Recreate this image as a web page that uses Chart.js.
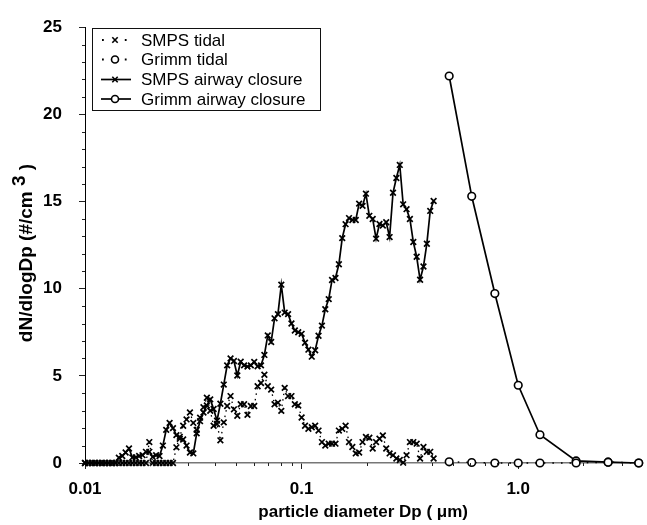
<!DOCTYPE html>
<html>
<head>
<meta charset="utf-8">
<script src="https://cdn.jsdelivr.net/npm/chart.js@4.4.0/dist/chart.umd.min.js"></script>
<style>
  html, body { margin: 0; padding: 0; background: #fff; }
  #wrap { width: 647px; height: 525px; position: relative; }
</style>
</head>
<body>
<div id="wrap"><canvas id="psdChart"></canvas></div>
<script>
// SMPS channel midpoints (um), 64 channels per decade
const smpsDp = [
  0.01, 0.01037, 0.01075, 0.01114, 0.01155, 0.01197, 0.01241, 0.01286, 0.01334, 0.01382,
  0.01433, 0.01486, 0.0154, 0.01596, 0.01655, 0.01715, 0.01778, 0.01843, 0.01911, 0.01981,
  0.02054, 0.02129, 0.02207, 0.02288, 0.02371, 0.02458, 0.02548, 0.02642, 0.02738, 0.02839,
  0.02943, 0.03051, 0.03162, 0.03278, 0.03398, 0.03523, 0.03652, 0.03786, 0.03924, 0.04068,
  0.04217, 0.04371, 0.04532, 0.04698, 0.0487, 0.05048, 0.05233, 0.05425, 0.05623, 0.05829,
  0.06043, 0.06264, 0.06494, 0.06732, 0.06978, 0.07234, 0.07499, 0.07774, 0.08058, 0.08354,
  0.0866, 0.08977, 0.09306, 0.09647, 0.1, 0.1037, 0.1075, 0.1114, 0.1155, 0.1197,
  0.1241, 0.1286, 0.1334, 0.1382, 0.1433, 0.1486, 0.154, 0.1596, 0.1655, 0.1715,
  0.1778, 0.1843, 0.1911, 0.1981, 0.2054, 0.2129, 0.2207, 0.2288, 0.2371, 0.2458,
  0.2548, 0.2642, 0.2738, 0.2839, 0.2943, 0.3051, 0.3162, 0.3278, 0.3398, 0.3523,
  0.3652, 0.3786, 0.3924, 0.4068
];
const smpsTidal = [
  0, 0, 0, 0, 0, 0, 0, 0, 0, 0,
  0, 0, 0, 0, 0, 0, 0, 0, 0, 1.2,
  0, 0, 0, 0, 0, 0, 0, 0.9, 1.5, 2.14,
  2.5, 2.9, 2.3, 1.9, 2.6, 3.2, 3.74, 3.0, 2.14, 2.24,
  1.3, 2.33, 3.27, 3.84, 3.08, 2.71, 3.37, 3.37, 2.76, 3.27,
  3.27, 4.4, 4.59, 5.06, 4.4, 4.21, 3.37, 3.46, 2.99, 4.31,
  3.84, 3.84, 3.37, 3.3, 2.61, 2.14, 1.96, 2.05, 2.14, 1.86,
  1.2, 1.0, 1.11, 1.11, 1.11, 1.86, 1.96, 2.14, 1.2, 0.92,
  0.55, 0.6, 1.2, 1.49, 1.45, 0.83, 1.2, 1.39, 1.58, 0.83,
  0.55, 0.45, 0.26, 0.17, 0.02, 0.45, 1.2, 1.2, 1.11, 0.26,
  0.92, 0.64, 0.64, 0.26
];
const smpsClosure = [
  0, 0, 0, 0, 0, 0, 0, 0, 0, 0,
  0.3, 0.4, 0.6, 0.83, 0.32, 0.32, 0.4, 0.45, 0.64, 0.64,
  0.35, 0.45, 0.4, 1.0, 1.9, 2.3, 2.0, 1.6, 1.39, 1.35,
  1.0, 0.6, 0.55, 1.7, 2.4, 2.9, 3.3, 3.65, 3.1, 2.43,
  3.4, 4.5, 5.6, 6.0, 5.85, 5.02, 5.81, 5.6, 5.53, 5.6,
  5.8, 5.55, 5.6, 6.2, 7.32, 6.94, 8.3, 8.54, 10.23, 8.63,
  8.54, 8.0, 7.6, 7.5, 7.41, 6.9, 6.5, 6.1, 6.47, 7.3,
  7.88, 8.82, 9.4, 10.5, 10.61, 11.4, 12.9, 13.7, 14.05, 13.94,
  13.94, 14.88, 14.75, 15.45, 14.18, 14.0, 12.87, 13.71, 13.62, 13.81,
  12.96, 15.5, 16.35, 17.1, 14.84, 14.56, 14.0, 12.68, 11.83, 10.51,
  11.27, 12.58, 14.46, 15.03
];

// Grimm optical channels (um)
const grimmDp = [0.48, 0.61, 0.78, 1.0, 1.26, 1.85, 2.6, 3.6];
const grimmTidal = [0.07, 0.03, 0, 0, 0, 0, 0.05, 0];
const grimmClosure = [22.2, 15.3, 9.72, 4.46, 1.62, 0.12, 0.05, 0];

const xTickValues = [0.01, 0.1, 1];
const xTickLabels = ['0.01', '0.1', '1.0'];
const yTickValues = [0, 5, 10, 15, 20, 25];
const seriesNames = ['SMPS tidal', 'Grimm tidal', 'SMPS airway closure', 'Grimm airway closure'];

const FONT = "'Liberation Sans', Arial, sans-serif";

function pairs(xs, ys){
  return xs.map((x, i) => ({ x: x, y: ys[i] }));
}

function drawCross(ctx, cx, cy, r){
  ctx.beginPath();
  ctx.moveTo(cx - r, cy - r); ctx.lineTo(cx + r, cy + r);
  ctx.moveTo(cx + r, cy - r); ctx.lineTo(cx - r, cy + r);
  ctx.stroke();
}
function drawCircle(ctx, cx, cy, r){
  ctx.beginPath();
  ctx.arc(cx, cy, r, 0, Math.PI * 2);
  ctx.fillStyle = '#fff';
  ctx.fill();
  ctx.stroke();
}

// minor ticks, boxed legend and y title with raised "3"
const extras = {
  id: 'extras',
  afterDraw(chart){
    const { ctx, chartArea } = chart;
    const x = chart.scales.x, y = chart.scales.y;
    ctx.save();
    ctx.strokeStyle = '#222';
    ctx.lineWidth = 1;
    ctx.beginPath();
    xTickValues.forEach(dec => {
      for (let m = 2; m <= 9; m++) {
        const v = dec * m;
        if (v > x.max) break;
        const px = Math.round(x.getPixelForValue(v)) + 0.5;
        ctx.moveTo(px, chartArea.bottom);
        ctx.lineTo(px, chartArea.bottom + 3);
      }
    });
    for (let v = 1; v < 25; v++) {
      if (v % 5 === 0) continue;
      const py = Math.round(y.getPixelForValue(v)) + 0.5;
      ctx.moveTo(chartArea.left, py);
      ctx.lineTo(chartArea.left - 3, py);
    }
    ctx.stroke();

    // legend
    const bx = 92.5, by = 28.5, bw = 228, bh = 82;
    ctx.strokeStyle = '#111';
    ctx.lineWidth = 1;
    ctx.strokeRect(bx, by, bw, bh);
    const rows = [40, 59.5, 79.5, 99];
    ctx.font = '17px ' + FONT;
    ctx.fillStyle = '#000';
    ctx.textBaseline = 'middle';
    rows.forEach((ry, i) => {
      ctx.strokeStyle = '#000';
      if (i < 2) {
        ctx.lineWidth = 1.8;
        ctx.setLineDash([1.8, 21]);
        ctx.beginPath(); ctx.moveTo(102, ry); ctx.lineTo(131, ry); ctx.stroke();
      } else {
        ctx.setLineDash([]);
        ctx.lineWidth = 1.7;
        ctx.beginPath(); ctx.moveTo(101, ry); ctx.lineTo(131, ry); ctx.stroke();
      }
      ctx.setLineDash([]);
      ctx.lineWidth = 1.6;
      if (i % 2 === 0) drawCross(ctx, 115, ry, 2.7);
      else drawCircle(ctx, 115, ry, 3.5);
      ctx.fillStyle = '#000';
      ctx.fillText(seriesNames[i], 141, ry + 1);
    });

    // y axis title
    ctx.save();
    ctx.translate(27, 253);
    ctx.rotate(-Math.PI / 2);
    ctx.font = 'bold 19px ' + FONT;
    const p1 = 'dN/dlogDp (#/cm ', p2 = '3', p3 = ' )';
    const w1 = ctx.measureText(p1).width, w2 = ctx.measureText(p2).width, w3 = ctx.measureText(p3).width;
    let sx = -(w1 + w2 + w3) / 2;
    ctx.textBaseline = 'middle';
    ctx.textAlign = 'left';
    ctx.fillText(p1, sx, 0);
    ctx.fillText(p2, sx + w1, -7);
    ctx.fillText(p3, sx + w1 + w2, 0);
    ctx.restore();

    ctx.restore();
  }
};

const tickFont = { family: FONT, size: 17, weight: 'bold' };

new Chart(document.getElementById('psdChart'), {
  type: 'line',
  data: {
    datasets: [
      {
        label: seriesNames[0],
        data: pairs(smpsDp, smpsTidal),
        borderColor: '#000',
        borderWidth: 1.3,
        borderDash: [1.5, 4],
        pointStyle: 'crossRot',
        pointRadius: 4,
        pointBorderWidth: 1.7,
        pointBorderColor: '#000',
        clip: false
      },
      {
        label: seriesNames[1],
        data: pairs(grimmDp, grimmTidal),
        borderColor: '#000',
        borderWidth: 1.4,
        borderDash: [1.6, 7],
        pointStyle: 'circle',
        pointRadius: 3.8,
        pointBorderWidth: 1.6,
        pointBorderColor: '#000',
        pointBackgroundColor: '#fff',
        clip: false
      },
      {
        label: seriesNames[2],
        data: pairs(smpsDp, smpsClosure),
        borderColor: '#000',
        borderWidth: 1.7,
        pointStyle: 'crossRot',
        pointRadius: 4,
        pointBorderWidth: 1.7,
        pointBorderColor: '#000',
        clip: false
      },
      {
        label: seriesNames[3],
        data: pairs(grimmDp, grimmClosure),
        borderColor: '#000',
        borderWidth: 1.7,
        pointStyle: 'circle',
        pointRadius: 3.8,
        pointBorderWidth: 1.6,
        pointBorderColor: '#000',
        pointBackgroundColor: ['#fff', '#fff', '#fff', '#fff', '#fff', '#fff', '#000', '#fff'],
        clip: false
      }
    ]
  },
  options: {
    responsive: true,
    maintainAspectRatio: false,
    animation: false,
    devicePixelRatio: 1,
    layout: { padding: { top: 20, right: 0, left: 0, bottom: 0 } },
    plugins: {
      legend: { display: false },
      tooltip: { enabled: false }
    },
    scales: {
      x: {
        type: 'logarithmic',
        min: 0.01,
        max: 3.7,
        afterBuildTicks: s => { s.ticks = xTickValues.map(v => ({ value: v })); },
        afterFit: s => { s.height = 62; },
        ticks: {
          autoSkip: false,
          maxRotation: 0,
          padding: 10,
          color: '#000',
          font: tickFont,
          callback: v => {
            const i = xTickValues.indexOf(v);
            return i >= 0 ? xTickLabels[i] : '';
          }
        },
        grid: { drawOnChartArea: false, drawTicks: true, tickLength: 6, color: '#222' },
        border: { display: true, color: '#777', width: 1.4 },
        title: {
          display: true,
          text: 'particle diameter Dp ( μm)',
          color: '#000',
          font: tickFont,
          padding: { top: 0, bottom: 2 }
        }
      },
      y: {
        type: 'linear',
        min: 0,
        max: 25,
        afterBuildTicks: s => { s.ticks = yTickValues.map(v => ({ value: v })); },
        afterFit: s => { s.width = 85; },
        ticks: { padding: 17, color: '#000', font: tickFont },
        grid: { drawOnChartArea: false, drawTicks: true, tickLength: 6, color: '#222' },
        border: { display: true, color: '#000', width: 1 }
      }
    }
  },
  plugins: [extras]
});
</script>
</body>
</html>
